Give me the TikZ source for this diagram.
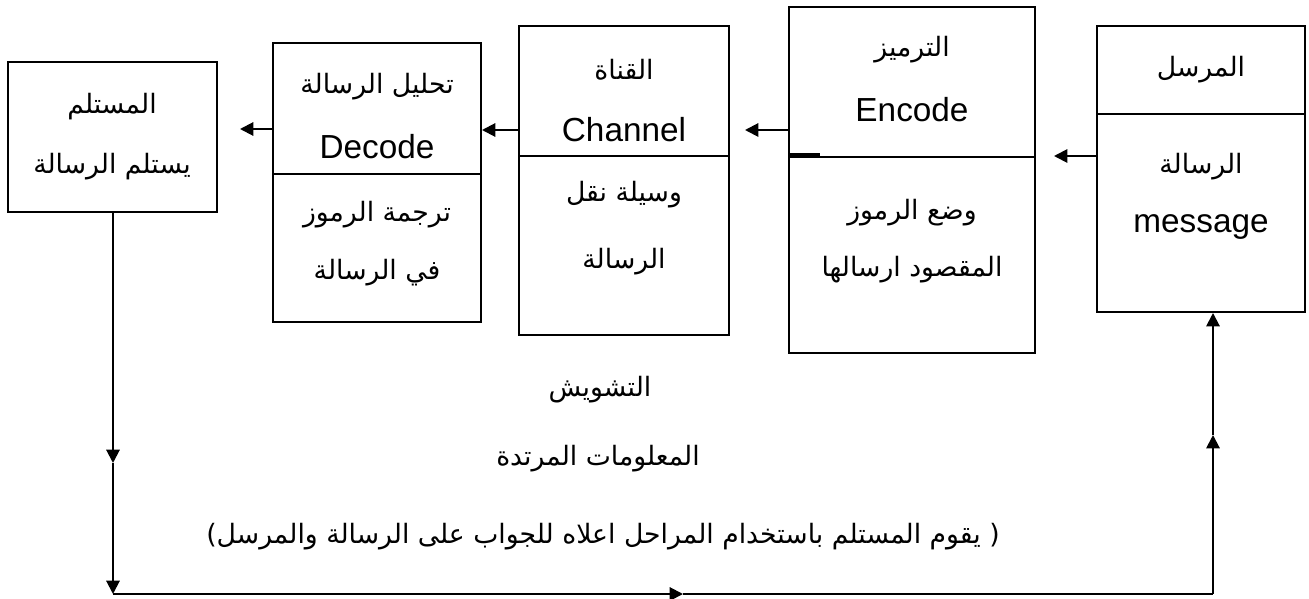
\documentclass[tikz,border=0pt]{standalone}
\usepackage{fontspec}
\setmainfont{Liberation Sans}
\newfontfamily\arabicfont[Script=Arabic]{DejaVu Sans}
\TeXXeTstate=1
\usepackage{tikz}
\usetikzlibrary{arrows.meta}
\usetikzlibrary{fit}

\newcommand{\artxt}[1]{{\fontsize{20}{24}\arabicfont\beginR #1\endR}}

\tikzset{
  box/.style={draw, line width=1.5, inner sep=0pt},
  lbl/.style={inner sep=0.75pt, font=\fontsize{25}{30}\selectfont},
  conn/.style={line width=1.5, -{Triangle[length=10pt,width=10pt]}},
}

\begin{document}
\begin{tikzpicture}[x=0.75pt,y=0.75pt,yscale=-1,xscale=1]
\useasboundingbox (0,0) rectangle (1309,599);

%Shape: Rectangle [receiver]
\node [box, fit={(8,62) (217,212)}] (recv) {};
%Shape: Rectangle [decode]
\node [box, fit={(273,43) (481,322)}] (dec) {};
\draw [line width=1.5] (dec.west |- 0,174) -- (dec.east |- 0,174) ;
%Shape: Rectangle [channel]
\node [box, fit={(519,26) (729,335)}] (chan) {};
\draw [line width=1.5] (chan.west |- 0,156) -- (chan.east |- 0,156) ;
%Shape: Rectangle [encode]
\node [box, fit={(789,7) (1035,353)}] (enc) {};
\draw [line width=1.5] (enc.west |- 0,157) -- (enc.east |- 0,157) ;
\draw [line width=3] (enc.west |- 0,155) -- (820,155) ;
%Shape: Rectangle [sender]
\node [box, fit={(1097,26) (1305,312)}] (send) {};
\draw [line width=1.5] (send.west |- 0,114) -- (send.east |- 0,114) ;

% Text Node
\node [lbl] (recvA) at (112,107) {\artxt{المستلم}};
\node [lbl] (recvB) at (112,167) {\artxt{يستلم الرسالة}};
% Text Node
\node [lbl] (decA) at (377,87) {\artxt{تحليل الرسالة}};
\node [lbl] (decB) at (377,147) {Decode};
\node [lbl] (decC) at (377,215) {\artxt{ترجمة الرموز}};
\node [lbl] (decD) at (377,273) {\artxt{في الرسالة}};
% Text Node
\node [lbl] (chanA) at (624,70) {\artxt{القناة}};
\node [lbl] (chanB) at (624,130) {Channel};
\node [lbl] (chanC) at (624,195) {\artxt{وسيلة نقل}};
\node [lbl] (chanD) at (624,262) {\artxt{الرسالة}};
% Text Node
\node [lbl] (encA) at (912,50) {\artxt{الترميز}};
\node [lbl] (encB) at (912,110) {Encode};
\node [lbl] (encC) at (912,213) {\artxt{وضع الرموز}};
\node [lbl] (encD) at (912,270) {\artxt{المقصود ارسالها}};
% Text Node
\node [lbl] (sendA) at (1201,70) {\artxt{المرسل}};
\node [lbl] (sendB) at (1201,167) {\artxt{الرسالة}};
\node [lbl] (sendC) at (1201,227) {message};

% Text Node
\node [lbl] (noise) at (600,390) {\artxt{التشويش}};
\node [lbl] (feedb) at (598,459) {\artxt{المعلومات المرتدة}};
\node [lbl] (note) at (603,537) {\artxt{( يقوم المستلم باستخدام المراحل اعلاه للجواب على الرسالة والمرسل)}};

%Arrows between the stages
\coordinate (tipA) at (1054,156);
\coordinate (tipB) at (745,130);
\coordinate (tipC) at (482,130);
\coordinate (tipD) at (240,129);
\draw [conn] (send.west |- tipA) -- (tipA) ;
\draw [conn] (enc.west |- tipB) -- (tipB) ;
\draw [conn] (chan.west |- tipC) -- (tipC) ;
\draw [conn] (dec.west |- tipD) -- (tipD) ;

%Feedback loop
\coordinate (midL) at (113,463);
\coordinate (fbL) at (113,594);
\coordinate (midB) at (683,594);
\coordinate (fbR) at (1213,594);
\coordinate (midR) at (1213,435);
\draw [conn] (midL |- recv.south) -- (midL) ;
\draw [conn] (midL) -- (fbL) ;
\draw [conn] (fbL) -- (midB) ;
\draw [line width=1.5] (midB) -- (fbR) ;
\draw [conn] (fbR) -- (midR) ;
\draw [conn] (midR) -- (send.south -| fbR) ;

\end{tikzpicture}
\end{document}
